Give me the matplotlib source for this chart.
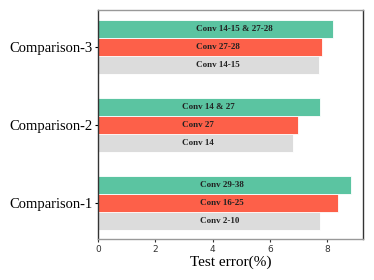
import numpy as np
import matplotlib.pyplot as plt

groups = ["Comparison-1", "Comparison-2", "Comparison-3"]
base_vals = [7.75, 6.81, 7.73]
mid_vals = [8.37, 6.98, 7.81]
top_vals = [8.84, 7.75, 8.22]
base_labels = ["Conv 2-10", "Conv 14", "Conv 14-15"]
mid_labels = ["Conv 16-25", "Conv 27", "Conv 27-28"]
top_labels = ["Conv 29-38", "Conv 14 & 27", "Conv 14-15 & 27-28"]
label_x = [3.57, 2.94, 3.42]

fig = plt.figure(figsize=(3.74, 2.8), dpi=100)
ax = fig.add_axes([98.3 / 374, 1 - 239.3 / 280, (363.3 - 98.3) / 374, (239.3 - 10) / 280])

y = np.arange(len(groups))
h = 0.23
series = [
    (base_vals, base_labels, -h, "#dcdcdc"),
    (mid_vals, mid_labels, 0, "#fd6049"),
    (top_vals, top_labels, h, "#5bc4a1"),
]
for vals, labels, off, color in series:
    ax.barh(y + off, vals, height=h, color=color, edgecolor="white", linewidth=0.6)
    for i, lab in enumerate(labels):
        ax.text(label_x[i], y[i] + off, lab, ha="left", va="center",
                family="Liberation Serif", fontweight="bold", fontsize=6.5, color="#222222")

ax.set_xlim(0, 9.27)
ax.set_ylim(-0.47, 2.47)
ax.set_yticks(y)
ax.set_yticklabels(groups, family="Liberation Serif", fontsize=10.5)
ax.set_xticks([0, 2, 4, 6, 8])
ax.tick_params(axis="x", labelsize=6.5, length=2.5, width=0.8, pad=1.5, colors="#333333")
ax.tick_params(axis="y", length=2.5, width=0.8, pad=1.5)
ax.set_xlabel("Test error(%)", family="Liberation Serif", fontsize=11, labelpad=1)

ax.spines["top"].set_color("#999999")
ax.spines["bottom"].set_color("#999999")
ax.spines["left"].set_color("#333333")
ax.spines["right"].set_color("#333333")
for s in ax.spines.values():
    s.set_linewidth(1.0)

fig.savefig("out.png", dpi=100)
